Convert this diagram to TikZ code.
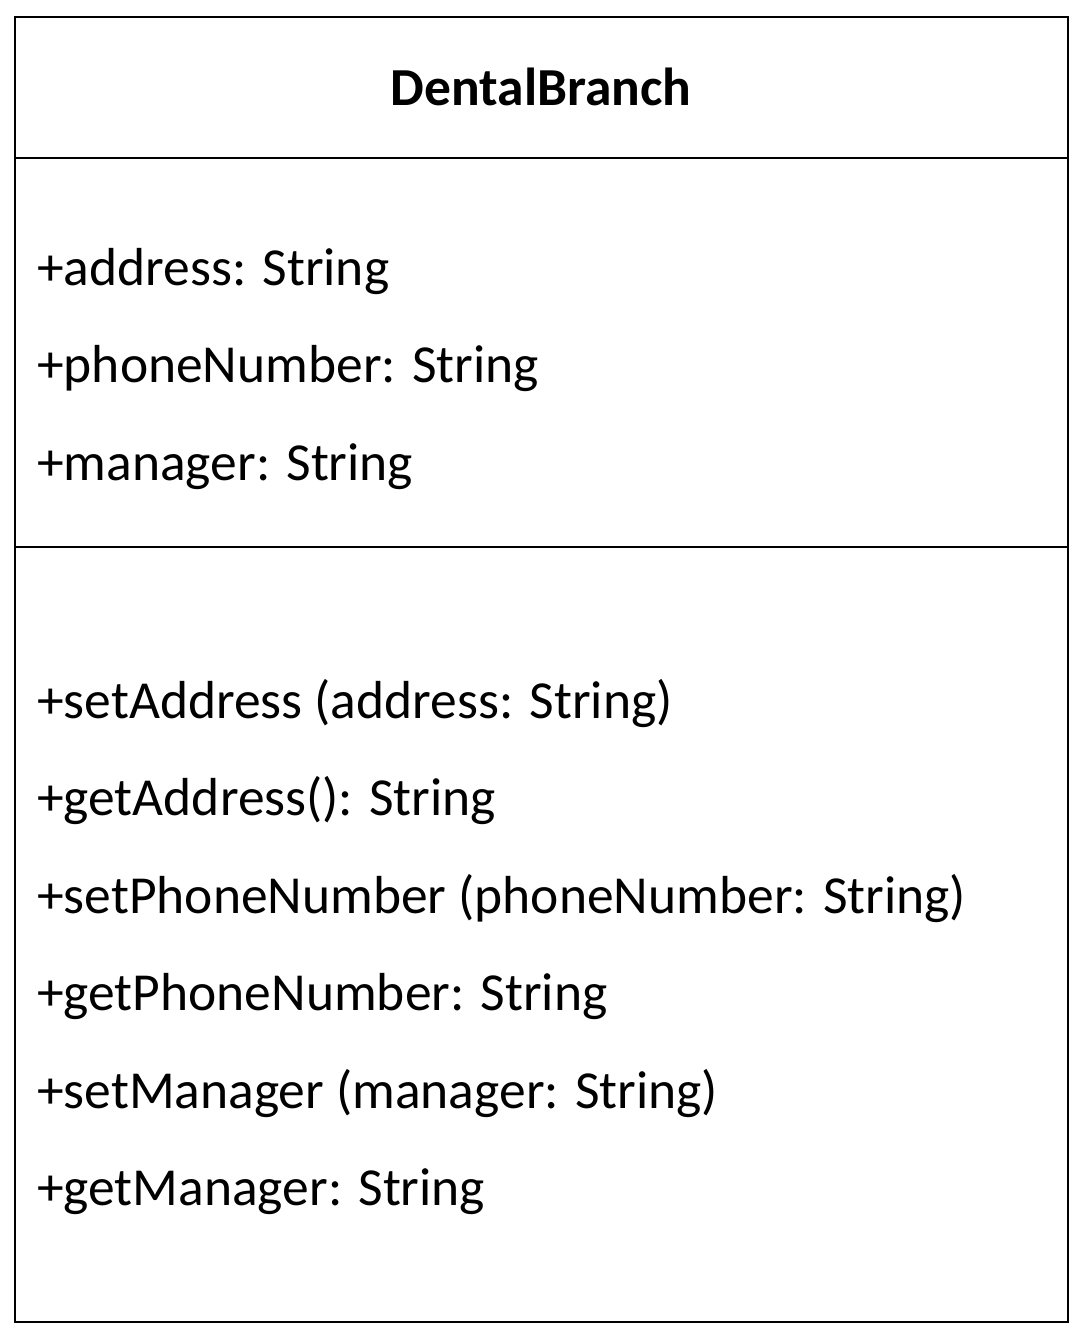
\documentclass[tikz,border=0pt]{standalone}
\usepackage{fontspec}
\setmainfont{Carlito}
\usepackage{tikz}

\begin{document}
\begin{tikzpicture}[x=1pt,y=-1pt,
    member/.style={anchor=base west,inner sep=0pt,font=\fontsize{53.5}{60}\selectfont},
    classname/.style={anchor=base,inner sep=0pt,font=\fontsize{53.5}{60}\selectfont\bfseries}]
    \useasboundingbox (0,0) rectangle (1083,1340);

    \draw[line width=2.7pt] (15,17) rectangle (1068,1322);
    \draw[line width=1.8pt] (15,158) -- (1068,158);
    \draw[line width=1.8pt] (15,547) -- (1068,547);

    \node[classname] (name) at (541,106) {DentalBranch};

    \node[member] (address) at (37,285) {+address: String};
    \node[member] (phone) at (37,382) {+phoneNumber: String};
    \node[member] (manager) at (37,480) {+manager: String};

    \node[member] (setaddr) at (37,718) {+setAddress (address: String)};
    \node[member] (getaddr) at (37,815) {+getAddress(): String};
    \node[member] (setphone) at (37,913) {+setPhoneNumber (phoneNumber: String)};
    \node[member] (getphone) at (37,1010) {+getPhoneNumber: String};
    \node[member] (setman) at (37,1108) {+setManager (manager: String)};
    \node[member] (getman) at (37,1205) {+getManager: String};

\end{tikzpicture}
\end{document}
